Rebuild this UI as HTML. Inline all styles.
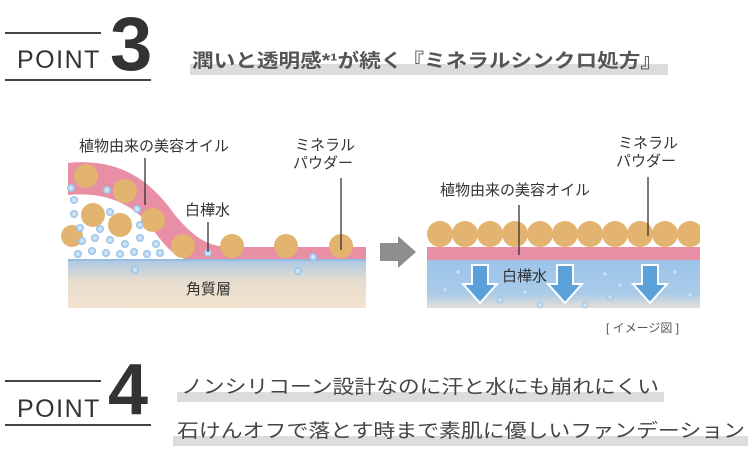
<!DOCTYPE html>
<html><head><meta charset="utf-8"><style>
html,body{margin:0;padding:0;background:#fff;}
svg{display:block;}
text{font-family:"Liberation Sans","Noto Sans CJK JP",sans-serif;}
</style></head><body>
<svg width="752" height="469" viewBox="0 0 752 469" xmlns="http://www.w3.org/2000/svg">
<defs>
<linearGradient id="skinL" x1="0" y1="0" x2="0" y2="1">
<stop offset="0" stop-color="#a9c8e6"/><stop offset="0.45" stop-color="#e7dccf"/><stop offset="1" stop-color="#f3e3cf"/>
</linearGradient>
<linearGradient id="skinR" x1="0" y1="0" x2="0" y2="1">
<stop offset="0" stop-color="#9cc4ea"/><stop offset="0.7" stop-color="#a9cbe9"/><stop offset="1" stop-color="#e6dfd6"/>
</linearGradient>
<radialGradient id="bub" cx="0.5" cy="0.5" r="0.5">
<stop offset="0" stop-color="#e8f3fc"/><stop offset="0.6" stop-color="#b5d4ef"/><stop offset="1" stop-color="#8fbce4"/>
</radialGradient>
</defs>

<!-- POINT 3 -->
<line x1="5" y1="33" x2="101" y2="33" stroke="#444" stroke-width="2"/>
<line x1="5" y1="80" x2="151" y2="80" stroke="#444" stroke-width="2"/>
<text x="17" y="68" font-size="25" fill="#333" letter-spacing="1.5">POINT</text>
<text x="110" y="70" font-size="76" font-weight="bold" fill="#333">3</text>
<rect x="190" y="64" width="478" height="11" fill="#dcdcdc"/>
<text x="192" y="67" font-size="19" font-weight="bold" fill="#555" textLength="470" lengthAdjust="spacingAndGlyphs">潤いと透明感*¹が続く『ミネラルシンクロ処方』</text>

<!-- Left diagram -->
<rect x="68" y="259" width="298" height="49" fill="url(#skinL)"/>
<line x1="68" y1="260" x2="366" y2="260" stroke="#8fb7e0" stroke-width="1.5"/>
<path d="M68,163 C120,158 150,180 175,215 C200,245 215,247 235,247 L366,247 L366,259 L68,259 Z" fill="#e88fa6"/>
<path d="M68,195 C100,192 125,200 145,220 C160,238 170,255 185,259 L68,259 Z" fill="#fff"/>
<g fill="#e2b46f">
<circle cx="86" cy="176" r="12"/><circle cx="125" cy="191" r="12"/><circle cx="153" cy="220" r="12"/>
<circle cx="93" cy="215" r="12"/><circle cx="120" cy="225" r="12"/><circle cx="72" cy="236" r="11"/>
<circle cx="183" cy="246" r="12"/><circle cx="232" cy="246" r="12"/><circle cx="286" cy="246" r="12"/><circle cx="341" cy="246" r="12"/>
</g>
<g fill="url(#bub)">
<circle cx="71" cy="188" r="4"/><circle cx="107" cy="190" r="4"/><circle cx="74" cy="200" r="4"/><circle cx="74" cy="214" r="4"/>
<circle cx="110" cy="212" r="4"/><circle cx="80" cy="228" r="4"/><circle cx="100" cy="229" r="4"/><circle cx="137" cy="209" r="4"/>
<circle cx="82" cy="241" r="4"/><circle cx="95" cy="238" r="4"/><circle cx="110" cy="240" r="4"/><circle cx="125" cy="244" r="4"/>
<circle cx="140" cy="238" r="4"/><circle cx="78" cy="254" r="4"/><circle cx="92" cy="251" r="4"/><circle cx="106" cy="253" r="4"/>
<circle cx="120" cy="254" r="4"/><circle cx="134" cy="252" r="4"/><circle cx="147" cy="254" r="4"/><circle cx="160" cy="253" r="4"/>
<circle cx="140" cy="225" r="4"/><circle cx="156" cy="244" r="4"/><circle cx="208" cy="253" r="4"/>
<circle cx="135" cy="270" r="4"/><circle cx="313" cy="257" r="4"/><circle cx="298" cy="271" r="4"/>
</g>
<text x="79" y="151" font-size="15" fill="#333">植物由来の美容オイル</text>
<line x1="145" y1="158" x2="145" y2="205" stroke="#333" stroke-width="1.3"/>
<text x="295" y="150" font-size="15" fill="#333">ミネラル</text>
<text x="293" y="168" font-size="15" fill="#333">パウダー</text>
<line x1="341" y1="178" x2="341" y2="250" stroke="#333" stroke-width="1.3"/>
<text x="185" y="215" font-size="15" fill="#333">白樺水</text>
<line x1="208" y1="222" x2="208" y2="252" stroke="#333" stroke-width="1.3"/>
<text x="186" y="294" font-size="15" fill="#333">角質層</text>

<!-- Gray arrow -->
<path d="M380,243 L398,243 L398,236 L416,252 L398,268 L398,261 L380,261 Z" fill="#8e8e8e"/>

<!-- Right diagram -->
<rect x="427" y="260" width="273" height="48" fill="url(#skinR)"/>
<rect x="427" y="247" width="273" height="13" fill="#e88fa6"/>
<g fill="#e2b46f">
<circle cx="440" cy="234" r="13"/><circle cx="465" cy="234" r="13"/><circle cx="490" cy="234" r="13"/><circle cx="515" cy="234" r="13"/>
<circle cx="540" cy="234" r="13"/><circle cx="565" cy="234" r="13"/><circle cx="590" cy="234" r="13"/><circle cx="615" cy="234" r="13"/>
<circle cx="640" cy="234" r="13"/><circle cx="665" cy="234" r="13"/><circle cx="690" cy="234" r="13"/>
</g>
<rect x="700" y="218" width="10" height="32" fill="#fff"/>
<g fill="url(#bub)" opacity="0.8">
<circle cx="458" cy="272" r="3.5"/><circle cx="445" cy="290" r="3.5"/><circle cx="525" cy="292" r="3.5"/><circle cx="540" cy="305" r="3.5"/>
<circle cx="605" cy="274" r="3.5"/><circle cx="610" cy="297" r="3.5"/><circle cx="620" cy="285" r="3.5"/><circle cx="675" cy="272" r="3.5"/>
<circle cx="690" cy="295" r="3.5"/><circle cx="500" cy="300" r="3.5"/><circle cx="585" cy="305" r="3.5"/>
</g>
<g fill="#5aa1dc" stroke="#fff" stroke-width="2">
<path d="M472,265 L488,265 L488,284 L497,284 L480,303 L463,284 L472,284 Z"/>
<path d="M557,265 L573,265 L573,284 L582,284 L565,303 L548,284 L557,284 Z"/>
<path d="M642,265 L658,265 L658,284 L667,284 L650,303 L633,284 L642,284 Z"/>
</g>
<text x="502" y="281" font-size="15" fill="#333">白樺水</text>
<text x="440" y="195" font-size="15" fill="#333">植物由来の美容オイル</text>
<line x1="519" y1="205" x2="519" y2="255" stroke="#333" stroke-width="1.3"/>
<text x="618" y="148" font-size="15" fill="#333">ミネラル</text>
<text x="616" y="166" font-size="15" fill="#333">パウダー</text>
<line x1="648" y1="177" x2="648" y2="236" stroke="#333" stroke-width="1.3"/>
<text x="606" y="332" font-size="12" fill="#555">[ イメージ図 ]</text>

<!-- POINT 4 -->
<line x1="5" y1="381" x2="101" y2="381" stroke="#444" stroke-width="2"/>
<line x1="5" y1="425" x2="151" y2="425" stroke="#444" stroke-width="2"/>
<text x="17" y="417" font-size="25" fill="#333" letter-spacing="1.5">POINT</text>
<text x="108" y="414" font-size="72" font-weight="bold" fill="#333">4</text>
<rect x="177" y="392" width="487" height="10" fill="#dcdcdc"/>
<text x="181" y="393" font-size="19" fill="#444" textLength="478" lengthAdjust="spacingAndGlyphs">ノンシリコーン設計なのに汗と水にも崩れにくい</text>
<rect x="173" y="436" width="575" height="10" fill="#dcdcdc"/>
<text x="177" y="437" font-size="19" fill="#444" textLength="568" lengthAdjust="spacingAndGlyphs">石けんオフで落とす時まで素肌に優しいファンデーション</text>
</svg>
</body></html>
